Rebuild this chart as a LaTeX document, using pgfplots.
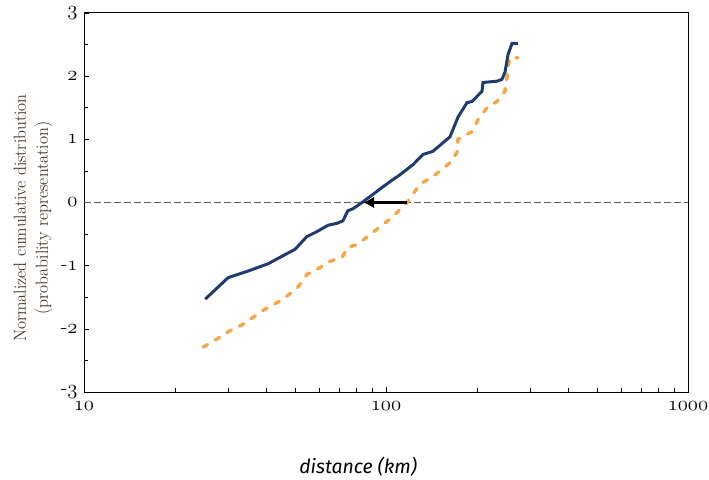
\documentclass[border=0pt]{standalone}
\usepackage{pgfplots}
\pgfplotsset{compat=1.18}
\usepackage{fontspec}
\newfontfamily\labelfont{Fira Sans}
\usetikzlibrary{arrows.meta}
\definecolor{navy}{RGB}{30,60,110}
\definecolor{lightorange}{RGB}{248,165,70}
\definecolor{zeroline}{RGB}{95,95,95}
\newcommand\osf[1]{{\usefont{OML}{cmm}{m}{it}#1}}

% measured distribution (blue)
\pgfplotstableread{
x y
25.2 -1.53
30.0 -1.19
34.7 -1.09
40.7 -0.97
50.0 -0.74
54.7 -0.54
59.1 -0.46
64.3 -0.36
68.8 -0.33
72.0 -0.29
74.8 -0.13
77.7 -0.10
83.3 0.00
90.6 0.13
97.8 0.25
103.1 0.33
111.3 0.44
122.9 0.60
132.6 0.76
143.0 0.81
162.9 1.04
173.1 1.35
185.4 1.58
192.7 1.60
207.9 1.76
209.5 1.90
233.1 1.92
242.1 1.95
247.7 2.06
253.5 2.34
261.4 2.52
273.5 2.52
}\bluedata

% reference distribution (orange, dashed)
\pgfplotstableread{
x y
24.8 -2.29
27.8 -2.15
30.4 -2.03
33.6 -1.93
35.5 -1.85
39.7 -1.69
45.3 -1.54
50.7 -1.36
54.7 -1.14
60.5 -1.03
65.3 -0.93
71.5 -0.87
74.8 -0.71
80.8 -0.66
90.6 -0.47
97.8 -0.35
105.5 -0.22
117.4 0.00
129.6 0.29
143.0 0.41
162.9 0.63
171.8 0.79
173.1 1.00
185.4 1.08
192.7 1.12
201.6 1.31
216.0 1.50
233.1 1.60
242.1 1.71
247.7 1.76
251.6 1.98
253.5 2.15
257.3 2.29
273.5 2.29
}\orangedata

\begin{document}
\begin{tikzpicture}
\useasboundingbox (0,0) rectangle (709bp,480bp);
\begin{axis}[
    at={(84bp,88bp)}, anchor=south west,
    width=604bp, height=379bp, scale only axis,
    xmode=log, xmin=10, xmax=1000,
    ymin=-3, ymax=3,
    axis line style={black, line width=1pt},
    xtick={10,100,1000},
    xticklabels={\osf{10},\osf{100},\osf{1000}},
    ytick={-3,-2,-1,0,1,2,3},
    yticklabels={-\osf{3},-\osf{2},-\osf{1},\osf{0},\osf{1},\osf{2},\osf{3}},
    minor ytick={-2.5,-1.5,-0.5,0.5,1.5,2.5},
    xtick pos=bottom, ytick pos=left,
    tick align=inside,
    major tick length=5bp, minor tick length=4bp,
    tick style={black, line width=0.6pt},
    tick label style={font=\fontsize{21}{21}\selectfont},
    xticklabel style={yshift=-6bp},
    yticklabel style={xshift=-3bp},
    xlabel={\labelfont\itshape distance (km)},
    xlabel style={at={(axis description cs:0.454,0)}, anchor=center, yshift=-75bp,
      font=\fontsize{19.5}{19.5}\selectfont},
    ylabel={Normalized cumulative distribution\\(probability representation)},
    ylabel style={at={(axis description cs:-0.0844,0.459)}, anchor=center,
      align=center, font=\fontsize{17.5}{22}\selectfont, text=black!75!brown},
  ]
  \addplot[zeroline, line width=1.4pt, dash pattern=on 7bp off 3bp] coordinates {(10,0) (1000,0)};
  \addplot[lightorange, line width=3.4pt, line cap=round, dash pattern=on 5bp off 9bp] table[x=x,y=y] {\orangedata};
  \addplot[navy, line width=3pt] table[x=x,y=y] {\bluedata};
  \draw[black, line width=2.6pt, -{Latex[length=11bp,width=12bp]}] (axis cs:117,0) -- (axis cs:84,0);
\end{axis}
\end{tikzpicture}
\end{document}
